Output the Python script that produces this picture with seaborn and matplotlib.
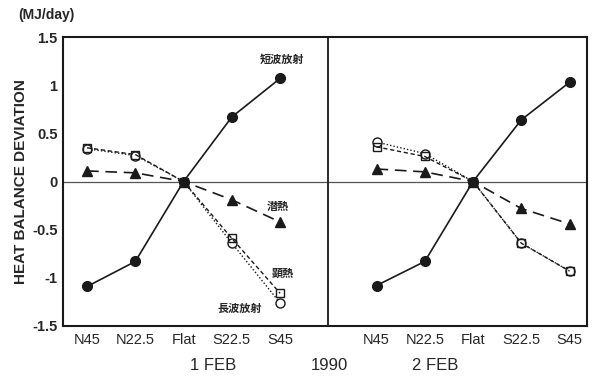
import matplotlib
matplotlib.use("Agg")
import matplotlib.pyplot as plt
import seaborn as sns
import pandas as pd

# ---- data ----
sites = ["N45", "N22.5", "Flat", "S22.5", "S45"]
days = ["1 FEB", "2 FEB"]
series_names = ["短波放射", "潜熱", "顕熱", "長波放射"]

shortwave_d1 = [-1.09, -0.83, 0.0, 0.67, 1.07]
latent_d1 = [0.11, 0.09, 0.0, -0.19, -0.42]
sensible_d1 = [0.35, 0.28, 0.0, -0.59, -1.16]
longwave_d1 = [0.34, 0.27, 0.0, -0.64, -1.26]

shortwave_d2 = [-1.08, -0.83, 0.0, 0.64, 1.03]
latent_d2 = [0.13, 0.10, 0.0, -0.28, -0.44]
sensible_d2 = [0.36, 0.26, 0.0, -0.64, -0.93]
longwave_d2 = [0.41, 0.29, 0.0, -0.64, -0.93]

yticks = [1.5, 1, 0.5, 0, -0.5, -1, -1.5]
ytick_labels = ["1.5", "1", "0.5", "0", "-0.5", "-1", "-1.5"]

values = {
    ("1 FEB", "短波放射"): shortwave_d1,
    ("1 FEB", "潜熱"): latent_d1,
    ("1 FEB", "顕熱"): sensible_d1,
    ("1 FEB", "長波放射"): longwave_d1,
    ("2 FEB", "短波放射"): shortwave_d2,
    ("2 FEB", "潜熱"): latent_d2,
    ("2 FEB", "顕熱"): sensible_d2,
    ("2 FEB", "長波放射"): longwave_d2,
}

rows = []
for di, day in enumerate(days):
    for s in series_names:
        for si, site in enumerate(sites):
            rows.append(dict(day=day, series=s, site=site,
                             pos=si + 6 * di, value=values[(day, s)][si]))
df = pd.DataFrame(rows)

# ---- style ----
sns.set_theme(style="white")
plt.rcParams["font.family"] = ["Liberation Sans", "DejaVu Sans"]
cjk = ["Noto Sans CJK JP", "DejaVu Sans"]
ink = "#1a1a1a"

styles = {
    "短波放射": dict(marker="o", linestyle="-", markerfacecolor=ink, markersize=7, lw=1.2),
    "潜熱": dict(marker="^", linestyle=(0, (7, 4)), markerfacecolor=ink, markersize=7.5, lw=1.2),
    "顕熱": dict(marker="s", linestyle=(0, (3, 2)), markerfacecolor="none", markersize=6, lw=1.0),
    "長波放射": dict(marker="o", linestyle=(0, (1, 1.5)), markerfacecolor="white", markersize=6.5, lw=1.0),
}

fig = plt.figure(figsize=(5.94, 3.78), dpi=100)
ax = fig.add_axes([0.106, 0.1376, 0.882, 0.7644])

ax.axhline(0, color="#555555", lw=0.9, zorder=1)
ax.axvline(5, color=ink, lw=1.3, zorder=1)

for day in days:
    for s in ["長波放射", "顕熱", "潜熱", "短波放射"]:
        sub = df[(df.day == day) & (df.series == s)]
        st = styles[s]
        sns.lineplot(data=sub, x="pos", y="value", ax=ax, color=ink,
                     marker=st["marker"], linestyle=st["linestyle"],
                     markerfacecolor=st["markerfacecolor"], markeredgecolor=ink,
                     markeredgewidth=1.0, markersize=st["markersize"],
                     lw=st["lw"], estimator=None, sort=False, legend=False, zorder=3)

ax.set_xlim(-0.5, 10.36)
ax.set_ylim(-1.5, 1.5)
ax.set_xticks(list(range(5)) + list(range(6, 11)))
ax.set_xticklabels(sites + sites, fontsize=10.5)
ax.set_yticks(yticks)
ax.set_yticklabels(ytick_labels, fontsize=10.5, fontweight="bold")
ax.tick_params(axis="both", direction="in", length=5, width=1, color=ink, pad=4)
ax.tick_params(axis="x", pad=5)
ax.tick_params(axis="y", right=False)
for sp in ax.spines.values():
    sp.set_color(ink)
    sp.set_linewidth(1.5)
ax.set_xlabel("")
ax.set_ylabel("HEAT BALANCE DEVIATION", fontsize=11, fontweight="bold", labelpad=3)

# series labels
ax.text(4.04, 1.27, "短波放射", family=cjk, fontsize=8, fontweight="bold", ha="center", va="center")
ax.text(3.96, -0.26, "潜熱", family=cjk, fontsize=8, fontweight="bold", ha="center", va="center")
ax.text(4.06, -0.95, "顕熱", family=cjk, fontsize=8, fontweight="bold", ha="center", va="center")
ax.text(3.17, -1.32, "長波放射", family=cjk, fontsize=8, fontweight="bold", ha="center", va="center")

fig.text(0.078, 0.96, "(MJ/day)", fontsize=10, fontweight="bold", ha="center", va="center")
fig.text(0.359, 0.034, "1 FEB", fontsize=12, ha="center", va="center")
fig.text(0.554, 0.034, "1990", fontsize=12, ha="center", va="center")
fig.text(0.732, 0.034, "2 FEB", fontsize=12, ha="center", va="center")

fig.savefig("out.png", dpi=100, facecolor="white")
